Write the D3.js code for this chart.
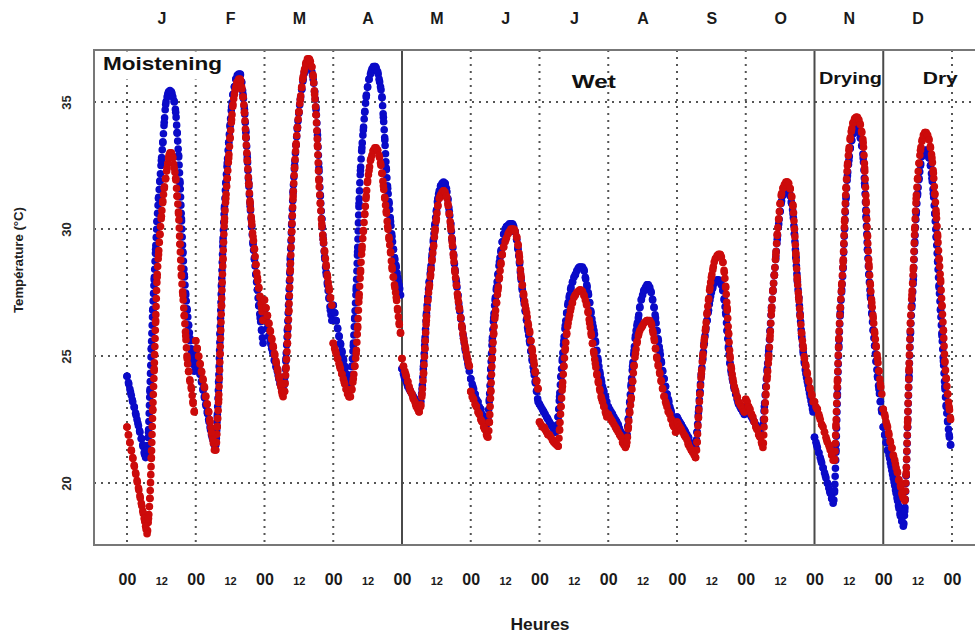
<!DOCTYPE html>
<html><head><meta charset="utf-8">
<script src="https://cdn.jsdelivr.net/npm/d3@7"></script>
<style>
html,body{margin:0;padding:0;background:#fff;}
svg{display:block;font-family:"Liberation Sans",Arial,Helvetica,sans-serif;}
</style>
</head><body>
<svg id="chart" width="975" height="633"></svg>
<script>
// ---------- data ----------
const monthLabels = ["J","F","M","A","M","J","J","A","S","O","N","D"];
const hourLabels = ["00","12"];
const yTicks = [20,25,30,35];
const seasonNames = ["Moistening","Wet","Drying","Dry"];
const seasonStartMonth = [0,4,10,11];
const sampleHours = [0,0.5,1,1.5,2,2.5,3,3.5,4,4.5,5,5.5,6,6.5,7,7.5,8,8.5,9,9.5,10,10.5,11,11.5,12,12.5,13,13.5,14,14.5,15,15.5,16,16.5,17,17.5,18,18.5,19,19.5,20,20.5,21,21.5,22,22.5,23,23.5];

const blueJan = [24.2,23.95,23.7,23.45,23.2,23.0,22.75,22.5,22.25,22.0,21.75,21.5,21.2,21.0,21.3,22.0,23.6,25.3,26.8,28.0,29.2,30.3,31.2,31.9,32.7,33.4,34.2,34.9,35.2,35.4,35.45,35.4,35.2,35.0,34.6,33.8,32.9,31.8,30.4,29.1,28.2,27.4,26.8,26.2,25.7,25.2,24.8,24.4];
const redJan = [22.2,21.9,21.6,21.3,21.0,20.7,20.4,20.1,19.8,19.5,19.2,18.9,18.6,18.3,18.0,18.6,19.4,21.0,22.9,24.5,26.4,28.1,29.0,29.8,30.5,31.1,31.6,32.0,32.4,32.8,33.0,33.0,32.8,32.4,32.0,31.3,30.6,29.4,28.2,27.4,26.6,25.8,24.9,24.4,24.0,23.7,23.2,22.8];
const blueFeb = [25.2,24.9,24.6,24.3,24.0,23.7,23.4,23.1,22.8,22.5,22.2,21.9,21.7,21.5,21.5,22.6,24.0,25.9,27.8,29.5,30.8,31.8,32.6,33.4,34.1,34.8,35.3,35.6,35.9,36.05,36.1,36.1,35.8,35.3,34.7,33.8,32.8,31.8,30.9,30.1,29.4,28.8,28.2,27.6,27.0,26.5,26.0,25.5];
const redFeb = [25.6,25.3,25.0,24.7,24.4,24.1,23.8,23.4,23.1,22.8,22.4,22.0,21.7,21.3,21.3,22.2,23.3,25.1,27.0,28.8,30.3,31.2,32.0,32.8,33.6,34.3,34.9,35.3,35.6,35.8,35.9,35.9,35.6,35.2,34.6,33.6,32.7,31.8,31.0,30.3,29.7,29.2,28.6,28.1,27.7,27.3,26.9,26.4];
const blueMar = [26.7,26.4,26.1,25.8,25.6,25.3,25.1,24.8,24.6,24.4,24.1,23.9,23.7,23.6,24.0,24.9,26.0,27.3,28.8,30.2,31.5,32.5,33.3,34.0,34.6,35.1,35.5,35.9,36.2,36.4,36.5,36.5,36.4,36.2,35.9,35.4,34.7,33.7,32.4,31.3,30.4,29.6,28.9,28.3,27.8,27.3,26.8,26.4];
const redMar = [27.2,26.9,26.6,26.3,26.0,25.7,25.4,25.1,24.8,24.5,24.2,23.9,23.6,23.4,23.6,24.5,25.5,26.8,28.4,29.9,31.3,32.4,33.3,34.0,34.6,35.1,35.6,36.0,36.3,36.55,36.7,36.7,36.6,36.4,36.0,35.3,34.5,33.3,31.9,31.0,30.2,29.6,29.1,28.6,28.1,27.7,27.3,27.0];
const blueApr = [27.0,26.7,26.4,26.1,25.8,25.5,25.2,24.9,24.6,24.3,24.0,23.8,23.8,24.6,25.4,26.5,27.6,29.1,31.0,32.3,33.2,33.9,34.6,35.2,35.6,35.9,36.1,36.3,36.4,36.4,36.35,36.2,35.9,35.6,35.2,34.4,33.5,32.4,31.6,31.0,30.3,29.7,29.2,28.8,28.5,28.1,27.8,27.4];
const redApr = [25.5,25.3,25.1,24.9,24.7,24.5,24.3,24.1,23.9,23.7,23.5,23.4,23.4,23.7,24.1,24.6,25.1,26.1,27.3,28.3,29.2,29.9,30.6,31.3,31.9,32.3,32.7,32.9,33.1,33.2,33.2,33.1,32.9,32.6,32.2,31.7,31.2,30.7,30.1,29.6,29.1,28.5,28.1,27.7,27.3,26.8,26.3,25.9];
const blueMay = [24.5,24.3,24.1,24.0,23.8,23.7,23.6,23.5,23.4,23.3,23.2,23.1,23.0,23.2,23.7,24.6,25.6,26.6,27.3,27.9,28.4,29.0,29.6,30.2,30.7,31.2,31.5,31.7,31.8,31.85,31.8,31.6,31.2,30.7,30.2,29.6,29.0,28.4,27.9,27.4,26.9,26.5,26.1,25.7,25.3,25.0,24.7,24.4];
const redMay = [24.9,24.6,24.4,24.2,24.0,23.8,23.6,23.5,23.3,23.2,23.0,22.9,22.8,23.0,23.5,24.3,25.3,26.4,27.2,27.7,28.2,28.8,29.3,29.9,30.4,30.9,31.2,31.35,31.45,31.5,31.45,31.3,31.0,30.6,30.1,29.5,28.9,28.3,27.8,27.3,26.9,26.5,26.1,25.7,25.4,25.1,24.8,24.6];
const blueJun = [24.1,23.9,23.7,23.5,23.3,23.2,23.0,22.9,22.7,22.6,22.4,22.3,22.6,23.3,24.5,25.6,26.5,27.2,27.7,28.2,28.7,29.1,29.5,29.8,30.0,30.1,30.15,30.2,30.2,30.2,30.1,29.9,29.6,29.2,28.7,28.1,27.6,27.2,26.8,26.4,26.0,25.6,25.2,24.8,24.4,24.0,23.6,23.2];
const redJun = [23.6,23.4,23.3,23.1,23.0,22.8,22.7,22.5,22.4,22.2,22.1,21.9,21.8,22.4,23.6,24.9,25.9,26.6,27.1,27.6,28.1,28.6,29.0,29.3,29.5,29.65,29.8,29.9,30.0,30.0,30.0,29.9,29.7,29.4,28.9,28.2,27.8,27.4,27.0,26.7,26.3,26.0,25.6,25.2,24.8,24.4,24.0,23.7];
const blueJul = [23.1,23.0,22.9,22.8,22.7,22.6,22.5,22.4,22.3,22.2,22.1,22.0,22.1,22.6,23.4,24.2,24.9,25.6,26.2,26.7,27.1,27.4,27.7,27.9,28.1,28.2,28.35,28.45,28.5,28.5,28.5,28.4,28.1,27.8,27.5,27.1,26.7,26.3,26.0,25.6,25.2,24.8,24.4,24.1,23.8,23.6,23.4,23.2];
const redJul = [22.4,22.3,22.2,22.2,22.1,22.0,21.9,21.9,21.8,21.7,21.6,21.55,21.5,21.45,22.1,23.0,23.8,24.6,25.3,25.9,26.3,26.6,26.9,27.1,27.3,27.4,27.5,27.55,27.6,27.6,27.55,27.4,27.2,27.0,26.7,26.3,25.9,25.5,25.1,24.7,24.3,24.0,23.7,23.4,23.2,23.0,22.8,22.6];
const blueAug = [23.0,22.9,22.8,22.7,22.6,22.5,22.4,22.3,22.1,22.0,21.9,21.7,21.6,21.9,22.5,23.2,23.9,24.6,25.2,25.8,26.2,26.5,26.9,27.2,27.4,27.6,27.7,27.8,27.8,27.7,27.5,27.2,26.9,26.5,26.0,25.6,25.2,24.8,24.4,24.1,23.8,23.5,23.3,23.0,22.8,22.6,22.4,22.3];
const redAug = [22.7,22.6,22.5,22.4,22.3,22.2,22.1,22.0,21.9,21.8,21.6,21.5,21.4,21.6,22.2,22.8,23.3,24.0,24.6,25.1,25.5,25.8,26.0,26.1,26.2,26.3,26.35,26.4,26.4,26.4,26.3,26.0,25.7,25.3,24.9,24.6,24.3,24.0,23.7,23.4,23.2,23.0,22.8,22.7,22.5,22.3,22.2,22.0];
const blueSep = [22.6,22.5,22.4,22.3,22.2,22.1,22.0,21.9,21.8,21.6,21.5,21.4,21.3,21.4,22.0,22.8,23.6,24.3,24.9,25.5,26.0,26.4,26.8,27.2,27.5,27.7,27.85,27.95,28.0,28.0,27.95,27.8,27.6,27.2,26.7,26.0,25.3,24.7,24.3,24.0,23.7,23.5,23.3,23.1,23.0,22.9,22.8,22.7];
const redSep = [22.4,22.3,22.2,22.1,22.0,21.9,21.8,21.7,21.5,21.4,21.3,21.2,21.1,21.0,21.6,22.6,23.5,24.3,25.0,25.6,26.1,26.7,27.2,27.7,28.1,28.4,28.7,28.85,28.95,29.0,29.0,28.9,28.7,28.3,27.7,26.9,25.9,25.0,24.5,24.1,23.8,23.6,23.4,23.2,23.1,23.0,22.9,22.8];
const blueOct = [23.0,22.9,22.8,22.7,22.6,22.5,22.4,22.3,22.2,22.1,22.0,21.9,22.3,23.0,23.8,24.5,25.2,26.0,26.9,27.6,28.2,28.9,29.6,30.2,30.7,31.1,31.35,31.5,31.6,31.6,31.5,31.3,31.0,30.6,29.8,28.9,28.0,27.3,26.6,25.8,25.2,24.7,24.3,24.0,23.7,23.4,23.1,22.8];
const redOct = [23.3,23.2,23.0,22.9,22.7,22.6,22.4,22.2,22.1,21.9,21.8,21.6,21.4,22.5,23.5,24.2,24.9,25.8,26.8,27.6,28.2,29.0,29.8,30.4,31.0,31.4,31.6,31.75,31.85,31.85,31.8,31.6,31.3,30.9,30.0,29.0,28.0,27.3,26.6,25.9,25.4,24.9,24.6,24.3,24.0,23.7,23.5,23.2];
const blueNov = [21.8,21.6,21.4,21.2,21.0,20.8,20.6,20.4,20.2,20.0,19.8,19.6,19.4,19.2,19.7,21.3,23.5,25.4,26.7,27.6,28.5,30.0,31.2,32.1,32.7,33.2,33.5,33.75,33.9,33.95,33.9,33.8,33.6,33.3,32.8,31.8,30.5,29.2,28.2,27.4,26.7,26.0,25.4,24.8,24.2,23.7,23.2,22.8];
const redNov = [23.2,23.0,22.9,22.7,22.5,22.3,22.2,22.0,21.8,21.6,21.5,21.3,21.1,20.9,20.9,22.3,24.0,25.7,26.9,27.8,28.7,30.3,31.6,32.5,33.1,33.6,33.95,34.2,34.35,34.4,34.4,34.3,34.1,33.8,33.4,32.4,31.1,29.7,28.6,27.8,27.1,26.5,25.9,25.4,24.9,24.4,23.9,23.5];
const blueDec = [22.2,21.9,21.6,21.3,21.1,20.8,20.5,20.2,19.9,19.6,19.3,19.0,18.7,18.5,18.3,18.9,20.3,22.2,24.2,25.9,27.0,28.0,29.5,30.6,31.4,32.0,32.5,32.85,33.0,33.1,33.1,33.0,32.8,32.5,32.0,31.4,30.6,29.7,28.7,27.7,26.8,25.8,24.8,23.8,23.0,22.4,21.9,21.5];
const redDec = [22.9,22.7,22.4,22.2,21.9,21.6,21.4,21.1,20.9,20.6,20.4,20.1,19.9,19.6,19.4,19.3,20.4,22.4,24.5,26.3,27.4,28.4,30.0,31.2,32.0,32.6,33.1,33.45,33.7,33.8,33.8,33.7,33.5,33.2,32.8,32.2,31.4,30.6,29.7,28.8,28.0,27.0,26.0,24.8,24.1,23.5,23.0,22.5];

const blueSeries = [blueJan,blueFeb,blueMar,blueApr,blueMay,blueJun,blueJul,blueAug,blueSep,blueOct,blueNov,blueDec];
const redSeries = [redJan,redFeb,redMar,redApr,redMay,redJun,redJul,redAug,redSep,redOct,redNov,redDec];

// ---------- layout ----------
const W = 975, H = 633;
const P = {left: 94, right: 985, top: 50, bottom: 545};
const BLUE = "#0a0ac8", RED = "#cc0b0b";
const R = 3.8;

const x = d3.scaleLinear().domain([-11.52, 299.52]).range([P.left, P.right]);
const y = d3.scaleLinear().domain([20, 35]).range([483, 102]);

const svg = d3.select("#chart");
svg.append("rect").attr("width", W).attr("height", H).attr("fill", "#fff");
svg.append("defs").append("clipPath").attr("id", "clip")
  .append("rect").attr("x", P.left).attr("y", P.top)
  .attr("width", P.right - P.left).attr("height", P.bottom - P.top);

// grid
const dayStarts = d3.range(0, 13).map(i => i * 24);
const boundaries = seasonStartMonth.slice(1).map(m => m * 24);
const grid = svg.append("g").attr("stroke", "#555").attr("stroke-width", 2)
  .attr("stroke-dasharray", "2,5").attr("clip-path", "url(#clip)");
grid.selectAll("line.h").data(yTicks).join("line").attr("class", "h")
  .attr("x1", P.left).attr("x2", P.right).attr("y1", d => y(d)).attr("y2", d => y(d));
grid.selectAll("line.v").data(dayStarts.filter(t => !boundaries.includes(t))).join("line").attr("class", "v")
  .attr("x1", d => x(d)).attr("x2", d => x(d)).attr("y1", P.top).attr("y2", P.bottom);

// season separators
svg.append("g").attr("stroke", "#4a4a4a").attr("stroke-width", 2)
  .selectAll("line").data(boundaries).join("line")
  .attr("x1", d => x(d)).attr("x2", d => x(d)).attr("y1", P.top).attr("y2", P.bottom);

// white box behind first season label
svg.append("rect").attr("x", P.left + 2).attr("y", P.top + 1.5).attr("width", 130).attr("height", 28).attr("fill", "#fff");

// data
const line = d3.line().x(d => x(d[0])).y(d => y(d[1])).curve(d3.curveMonotoneX);
const marks = svg.append("g").attr("clip-path", "url(#clip)");
function drawSeries(series, color) {
  series.forEach((vals, m) => {
    const pts = sampleHours.map((h, k) => [m * 24 + h, vals[k]]);
    const g = marks.append("g");
    g.append("path").datum(pts).attr("d", line).attr("fill", "none")
      .attr("stroke", color).attr("stroke-width", 2 * R)
      .attr("stroke-linecap", "round").attr("stroke-dasharray", "0,8");
    g.selectAll("circle").data(pts).join("circle")
      .attr("cx", d => x(d[0])).attr("cy", d => y(d[1])).attr("r", R).attr("fill", color);
  });
}
drawSeries(blueSeries, BLUE);
drawSeries(redSeries, RED);

// frame
svg.append("rect").attr("x", P.left).attr("y", P.top).attr("width", P.right - P.left).attr("height", P.bottom - P.top)
  .attr("fill", "none").attr("stroke", "#777").attr("stroke-width", 2);

// season labels
const seasonLabelX = [x(0) - 24, x(4 * 24 + 2 * 24 + 11.3), x(10 * 24) + 4.5, x(11 * 24) + 39.5];
const seasonBaseline = [70, 87.5, 84, 84];
const seasonSize = [19, 19, 16, 16];
const seasonLen = [119, 44, 63, 35];
svg.append("g").selectAll("text").data(seasonNames).join("text")
  .attr("x", (d, i) => seasonLabelX[i]).attr("y", (d, i) => seasonBaseline[i])
  .attr("font-size", (d, i) => seasonSize[i]).attr("font-weight", "bold").attr("fill", "#111")
  .attr("textLength", (d, i) => seasonLen[i]).attr("lengthAdjust", "spacingAndGlyphs")
  .text(d => d);

// top axis: months
const topAxis = d3.axisTop(x).tickValues(monthLabels.map((m, i) => i * 24 + 12))
  .tickFormat((d, i) => monthLabels[i]).tickSize(0);
const gTop = svg.append("g").attr("transform", `translate(0,${P.top})`).call(topAxis);
gTop.select(".domain").remove();
gTop.selectAll("text").attr("y", -26).attr("dy", 0).attr("font-size", 16).attr("font-weight", "bold")
  .attr("fill", "#1a1a1a").attr("font-family", null);

// bottom axis: hours
const hourTicks = d3.range(0, 25).map(k => k * 12);
const bottomAxis = d3.axisBottom(x).tickValues(hourTicks)
  .tickFormat(d => hourLabels[(d / 12) % 2]).tickSize(0);
const gBot = svg.append("g").attr("transform", `translate(0,${P.bottom})`).call(bottomAxis);
gBot.select(".domain").remove();
gBot.selectAll("text").attr("y", 40).attr("dy", 0).attr("font-weight", "bold").attr("fill", "#1a1a1a")
  .attr("font-family", null)
  .attr("font-size", d => (d / 12) % 2 === 0 ? 16 : 11);

// left axis
const leftAxis = d3.axisLeft(y).tickValues(yTicks).tickFormat(d3.format("d")).tickSize(0);
const gLeft = svg.append("g").attr("transform", `translate(${P.left},0)`).call(leftAxis);
gLeft.select(".domain").remove();
gLeft.selectAll("text").attr("x", 0).attr("dy", 0).attr("text-anchor", "middle")
  .attr("transform", "translate(-23.5,0) rotate(-90)")
  .attr("font-size", 13).attr("font-weight", "bold").attr("fill", "#2a2a2a").attr("font-family", null);

// axis titles
svg.append("text").attr("transform", "translate(22.5,260) rotate(-90)").attr("text-anchor", "middle")
  .attr("font-size", 12.5).attr("font-weight", "bold").attr("fill", "#222")
  .attr("textLength", 106).attr("lengthAdjust", "spacingAndGlyphs").text("Température (°C)");
svg.append("text").attr("x", 540).attr("y", 630).attr("text-anchor", "middle")
  .attr("font-size", 16).attr("font-weight", "bold").attr("fill", "#1a1a1a")
  .attr("textLength", 59).attr("lengthAdjust", "spacingAndGlyphs").text("Heures");
</script>
</body></html>
